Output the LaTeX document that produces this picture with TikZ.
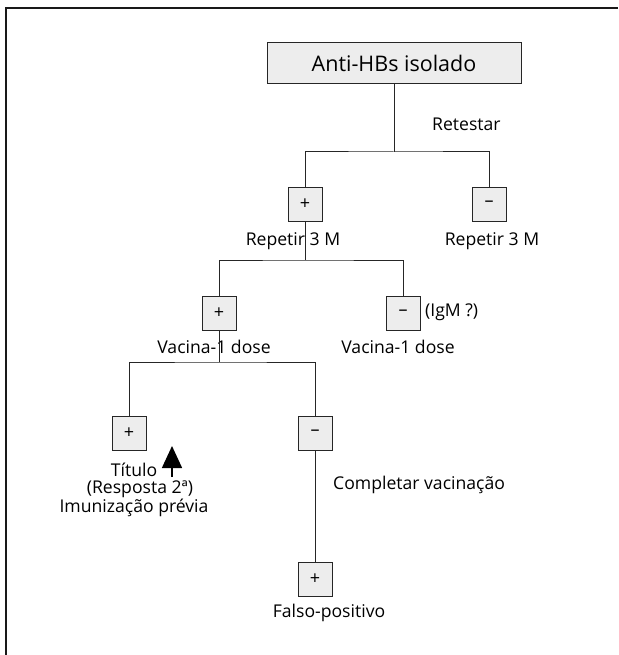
\documentclass[tikz,border=0pt]{standalone}
\usepackage{fontspec}
\setmainfont{Open Sans}
\usetikzlibrary{arrows.meta}
\definecolor{boxfill}{gray}{0.93}
\tikzset{
  sbox/.style={draw=black!85, line width=1pt, fill=boxfill, minimum width=34pt, minimum height=34pt, inner sep=0pt, font=\fontsize{18}{18}\selectfont},
  lbl/.style={inner sep=0pt, font=\fontsize{17.6}{19}\selectfont, text=black},
  conn/.style={draw=black!85, line width=1pt},
}
\begin{document}
\begin{tikzpicture}[x=1pt,y=-1pt]
\useasboundingbox (0,0) rectangle (618,655);
% frame
\draw[line width=2.2pt, black!90] (6,655) -- (6,8) -- (618,8);
% title
\node[draw=black!85, line width=1pt, fill=boxfill, minimum width=254pt, minimum height=41pt, inner sep=0pt, font=\fontsize{21.5}{23}\selectfont] (title) at (394,63.5) {Anti-HBs isolado};
\node[lbl, anchor=west] (retestar) at (432,124) {Retestar};
% level 1
\node[sbox] (p1) at (305,204) {+};
\node[sbox] (m1) at (489,204) {–};
\coordinate (j1) at (394,152);
\draw[conn] (title) -- (j1);
\draw[conn] (p1) |- (j1) -| (m1);
\node[lbl] (rep1) at (293,241) {Repetir 3 M};
\node[lbl] (rep2) at (492,241) {Repetir 3 M};
% level 2
\node[sbox] (p2) at (219,313) {+};
\node[sbox] (m2) at (403,313) {–};
\coordinate (j2) at (305,260);
\draw[conn] (p1) -- (j2);
\draw[conn] (p2) |- (j2) -| (m2);
\node[lbl, anchor=west] (igm) at (425,312) {(IgM ?)};
\node[lbl] (vac1) at (214,347) {Vacina-1 dose};
\node[lbl] (vac2) at (398,347) {Vacina-1 dose};
% level 3
\node[sbox] (p3) at (129,433) {+};
\node[sbox] (m3) at (315,433) {–};
\coordinate (j3) at (219,362);
\draw[conn] (p2) -- (j3);
\draw[conn] (p3) |- (j3) -| (m3);
\node[lbl] (titulo) at (134,470) {Título};
\coordinate (arrlow) at (172,477);
\coordinate (arrtip) at (172,446);
\draw[line width=1.5pt, black, -{Triangle[length=22pt, width=20pt]}] (arrlow) -- (arrtip);
\node[lbl] (resp) at (140,489) {(Resposta 2ª)};
\node[lbl] (imun) at (134,508) {Imunização prévia};
\node[lbl, anchor=west] (compl) at (333,485) {Completar vacinação};
% level 4
\node[sbox] (p4) at (315,579.5) {+};
\draw[conn] (m3) -- (p4);
\node[lbl] (falso) at (329,613) {Falso-positivo};
\end{tikzpicture}
\end{document}
